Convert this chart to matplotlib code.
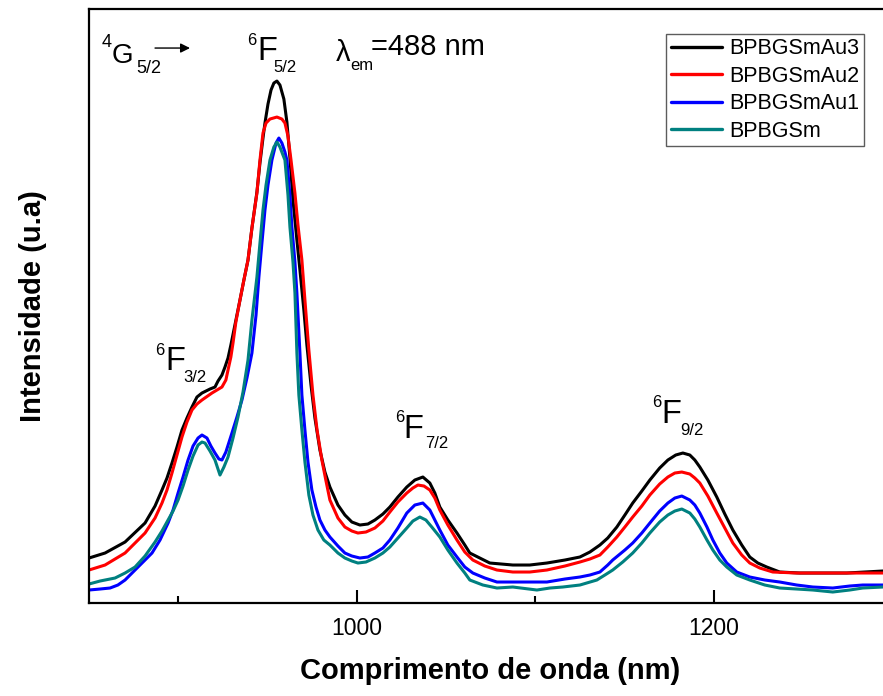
import matplotlib
matplotlib.use("Agg")
import matplotlib.pyplot as plt
from matplotlib.ticker import FixedLocator

plt.rcParams["font.family"] = ["Liberation Sans", "DejaVu Sans"]

# Emission spectra (excitation 488 nm), intensity in arbitrary units
wl_au3 = [850.0, 859.0, 870.2, 881.4, 887.0, 890.9, 893.7, 896.5, 899.3, 902.1, 904.9, 907.7,
          910.5, 913.3, 917.8, 920.6, 922.3, 924.5, 926.2, 927.9, 929.5, 931.2, 934.6, 936.8,
          939.1, 941.3, 944.1, 945.8, 947.5, 948.6, 950.3, 952.0, 953.6, 955.3, 957.0, 959.2,
          960.9, 962.6, 964.3, 966.5, 968.2, 970.4, 972.1, 974.4, 976.6, 979.4, 982.2, 985.0,
          989.5, 993.4, 997.3, 1001.8, 1006.3, 1010.2, 1014.7, 1018.6, 1023.1, 1028.1, 1032.6,
          1037.1, 1041.0, 1043.8, 1046.6, 1051.1, 1056.2, 1060.6, 1063.4, 1069.0, 1074.6,
          1087.5, 1097.0, 1106.6, 1116.7, 1125.1, 1130.7, 1136.3, 1140.7, 1145.8, 1150.3,
          1154.7, 1159.8, 1164.3, 1169.8, 1174.4, 1178.8, 1182.8, 1186.7, 1189.5, 1192.3,
          1196.8, 1201.8, 1206.3, 1210.8, 1215.8, 1220.3, 1224.8, 1229.8, 1237.1, 1248.3,
          1255.6, 1274.6, 1284.7, 1294.8, 1300.0]
int_au3 = [44, 49, 60, 79, 96, 112, 124, 139, 155, 172, 184, 195,
           205, 209, 213, 215, 221, 227, 235, 244, 257, 272, 302, 322,
           342, 374, 410, 439, 464, 479, 498, 512, 519, 521, 517, 503,
           480, 444, 402, 362, 332, 292, 257, 217, 184, 152, 130, 115,
           97, 87, 80, 77, 78, 82, 88, 95, 105, 115, 122,
           125, 119, 109, 95, 82, 69, 57, 49, 44, 39,
           37, 37, 39, 42, 45, 50, 57, 64, 75, 87,
           99, 111, 122, 134, 142, 147, 149, 147, 142, 135,
           122, 105, 88, 72, 57, 45, 39, 35, 30, 29,
           29, 29, 30, 31, 31]

wl_au2 = [850.0, 859.0, 870.2, 881.4, 887.0, 890.9, 893.7, 896.5, 899.3, 902.1, 904.9, 907.7,
          910.5, 913.3, 918.9, 924.5, 926.7, 927.9, 929.5, 930.7, 932.3, 934.6, 936.8, 939.1,
          941.3, 944.1, 945.8, 947.5, 949.2, 951.4, 955.3, 958.1, 959.8, 961.5, 963.2, 965.4,
          967.1, 969.3, 971.0, 973.2, 975.5, 977.8, 980.5, 982.7, 985.0, 989.5, 993.4, 997.3,
          1000.7, 1005.2, 1010.2, 1014.7, 1018.6, 1023.1, 1028.1, 1031.5, 1034.3, 1037.7,
          1041.0, 1043.8, 1046.6, 1051.1, 1056.2, 1060.6, 1065.1, 1071.8, 1078.6, 1087.5,
          1097.0, 1106.6, 1116.7, 1125.1, 1130.7, 1136.3, 1140.7, 1145.8, 1150.3, 1154.7,
          1159.8, 1164.3, 1169.8, 1174.4, 1178.3, 1182.2, 1186.7, 1189.5, 1192.3, 1196.8,
          1201.8, 1206.3, 1210.8, 1215.8, 1220.3, 1225.9, 1233.2, 1246.6, 1270.7, 1294.8,
          1300.0]
int_au2 = [32, 37, 49, 69, 84, 99, 112, 129, 147, 165, 180, 192,
           198, 202, 209, 215, 222, 232, 245, 259, 280, 302, 322, 342,
           374, 409, 442, 469, 479, 483, 485, 483, 479, 466, 442, 409,
           377, 342, 302, 252, 207, 172, 142, 122, 102, 84, 75, 71,
           69, 70, 74, 81, 90, 100, 109, 114, 117, 116,
           112, 104, 92, 77, 62, 50, 42, 36, 32, 30,
           30, 32, 36, 40, 43, 47, 55, 65, 75, 85,
           96, 107, 118, 125, 129, 130, 128, 124, 119, 106,
           89, 74, 59, 47, 39, 34, 30, 29, 29, 29,
           29]

wl_au1 = [850.0, 856.2, 861.8, 866.2, 870.2, 875.8, 881.4, 885.3, 889.8, 894.3, 897.1, 899.9,
          902.7, 905.5, 908.3, 911.1, 913.3, 916.1, 918.3, 920.6, 922.8, 924.5, 926.7, 930.1,
          932.9, 935.7, 938.5, 941.3, 943.6, 945.2, 946.9, 948.6, 950.3, 952.5, 954.8, 956.4,
          958.1, 959.8, 960.9, 962.6, 963.7, 965.4, 966.5, 968.2, 969.3, 971.0, 972.7, 974.9,
          977.2, 979.4, 982.2, 985.0, 989.5, 993.4, 997.3, 1001.8, 1006.3, 1010.2, 1014.7,
          1018.6, 1023.1, 1028.1, 1032.6, 1037.1, 1041.0, 1043.8, 1046.6, 1051.1, 1056.2,
          1060.6, 1065.1, 1071.8, 1078.6, 1087.5, 1097.0, 1106.6, 1116.7, 1125.1, 1130.7,
          1136.3, 1140.7, 1143.5, 1150.3, 1154.7, 1159.8, 1164.3, 1169.8, 1174.4, 1178.3,
          1182.2, 1186.7, 1189.5, 1192.3, 1196.3, 1199.6, 1203.5, 1207.4, 1213.0, 1220.3,
          1228.7, 1237.1, 1246.6, 1255.6, 1266.8, 1276.3, 1283.6, 1294.8, 1300.0]
int_au1 = [12, 13, 14, 17, 22, 32, 42, 49, 62, 79, 92, 109,
           125, 142, 156, 164, 167, 164, 156, 149, 143, 142, 150, 169,
           185, 202, 224, 249, 287, 325, 359, 392, 417, 442, 459, 464,
           459, 450, 442, 407, 375, 340, 309, 249, 207, 172, 140, 112,
           95, 82, 72, 65, 56, 49, 46, 44, 45, 49, 54,
           62, 74, 89, 97, 99, 92, 82, 72, 57, 45,
           35, 29, 24, 20, 20, 20, 20, 23, 25, 27,
           30, 37, 42, 52, 59, 69, 79, 91, 99, 104,
           106, 102, 97, 89, 75, 62, 49, 39, 30, 25,
           22, 20, 17, 15, 14, 16, 17, 17, 17]

wl_sm = [850.0, 856.2, 864.6, 870.2, 875.8, 881.4, 887.0, 890.9, 894.3, 897.1, 899.9, 902.7,
         905.5, 908.3, 911.1, 913.3, 915.0, 917.8, 920.6, 923.4, 925.6, 927.9, 930.7, 933.5,
         936.3, 939.1, 941.3, 944.1, 945.8, 947.5, 949.2, 951.4, 953.6, 955.3, 957.0, 958.7,
         959.8, 961.5, 962.6, 964.3, 965.4, 966.5, 967.6, 969.3, 971.0, 973.2, 975.5, 978.3,
         981.6, 985.0, 989.5, 993.4, 997.3, 1000.7, 1005.2, 1010.2, 1014.7, 1018.6, 1023.1,
         1028.1, 1031.5, 1035.4, 1038.8, 1042.1, 1046.6, 1051.1, 1056.2, 1060.6, 1063.4,
         1070.7, 1078.6, 1087.5, 1101.0, 1108.3, 1115.5, 1125.1, 1134.6, 1139.1, 1143.5,
         1149.1, 1154.7, 1159.8, 1164.3, 1169.8, 1174.4, 1178.3, 1182.2, 1186.7, 1189.5,
         1192.3, 1196.3, 1199.6, 1203.5, 1207.4, 1213.0, 1220.3, 1228.7, 1237.1, 1246.6,
         1255.6, 1266.8, 1276.3, 1283.6, 1294.8, 1300.0]
int_sm = [18, 21, 24, 29, 35, 46, 60, 71, 82, 91, 102, 116,
          132, 146, 157, 160, 159, 151, 142, 127, 135, 145, 164, 185,
          210, 242, 282, 325, 359, 392, 417, 442, 455, 460, 455, 447,
          442, 407, 375, 340, 309, 249, 207, 172, 140, 107, 87, 72,
          62, 57, 49, 44, 41, 39, 40, 44, 49, 55, 64,
          74, 81, 85, 82, 75, 65, 52, 39, 29, 22,
          17, 14, 15, 12, 14, 15, 17, 22, 27, 32,
          40, 49, 59, 69, 80, 87, 91, 93, 89, 83,
          75, 62, 52, 42, 35, 27, 22, 17, 14, 13,
          12, 10, 12, 14, 15, 15]

series = [
    ("BPBGSmAu3", wl_au3, int_au3, "#000000"),
    ("BPBGSmAu2", wl_au2, int_au2, "#ff0000"),
    ("BPBGSmAu1", wl_au1, int_au1, "#0000ff"),
    ("BPBGSm", wl_sm, int_sm, "#008080"),
]

fig = plt.figure(figsize=(8.83, 6.96), dpi=100)
ax = fig.add_axes([0.1008, 0.1336, 0.9094, 0.8534])

for name, wl, inten, color in series:
    ax.plot(wl, inten, color=color, lw=2.2, label=name,
            solid_joinstyle="round", solid_capstyle="round")

ax.set_xlim(850, 1300)
ax.set_ylim(-1, 593)

ax.xaxis.set_major_locator(FixedLocator([1000, 1200]))
ax.xaxis.set_minor_locator(FixedLocator([900, 1100, 1300]))
ax.set_yticks([])
ax.tick_params(axis="x", which="major", direction="in", length=9.5, width=1.5,
               labelsize=16.5, pad=10, top=False)
ax.tick_params(axis="x", which="minor", direction="in", length=5, width=1.5, top=False)
for side in ["left", "bottom", "top", "right"]:
    ax.spines[side].set_linewidth(1.6)

ax.set_xlabel("Comprimento de onda (nm)", fontsize=21, fontweight="bold", labelpad=12)
ax.set_ylabel("Intensidade (u.a)", fontsize=21, fontweight="bold", labelpad=30)

leg = ax.legend(loc="upper right", bbox_to_anchor=(0.965, 0.958), borderaxespad=0,
                fontsize=15.5, frameon=True, fancybox=False, handlelength=2.4,
                handletextpad=0.33, borderpad=0.2, labelspacing=0.3)
leg.get_frame().set_edgecolor("#333333")
leg.get_frame().set_linewidth(1.0)
for line in leg.get_lines():
    line.set_linewidth(2.4)


def level(x_sup, y_sup, x_main, y_main, x_sub, y_sub, main, sup, sub,
          main_size=23.5, small_size=12):
    ax.text(x_sup, y_sup, sup, fontsize=small_size, ha="left", va="baseline")
    ax.text(x_main, y_main, main, fontsize=main_size, ha="left", va="baseline")
    ax.text(x_sub, y_sub, sub, fontsize=small_size, ha="left", va="baseline")


# Transition labels
level(887.0, 247, 892.6, 232, 902.7, 220, "F", "6", "3/2")
level(938.5, 557, 944.1, 542, 953.1, 530, "F", "6", "5/2")
level(1021.4, 180, 1025.9, 164, 1038.2, 154, "F", "6", "7/2")
level(1165.4, 195, 1171.0, 179, 1181.1, 167, "F", "6", "9/2")
level(857.3, 555, 862.9, 539, 876.3, 529, "G", "4", "5/2", main_size=20, small_size=13)
ax.annotate("", xy=(906.6, 554), xytext=(887.0, 554),
            arrowprops=dict(arrowstyle="-|>", color="black", lw=1.0,
                            mutation_scale=14, shrinkA=0, shrinkB=0))

ax.text(988.4, 541, "λ", fontsize=21, ha="left", va="baseline")
ax.text(996.4, 532, "em", fontsize=12, ha="left", va="baseline")
ax.text(1008.0, 547, "=488 nm", fontsize=21, ha="left", va="baseline")

fig.savefig("out.png", dpi=100)
